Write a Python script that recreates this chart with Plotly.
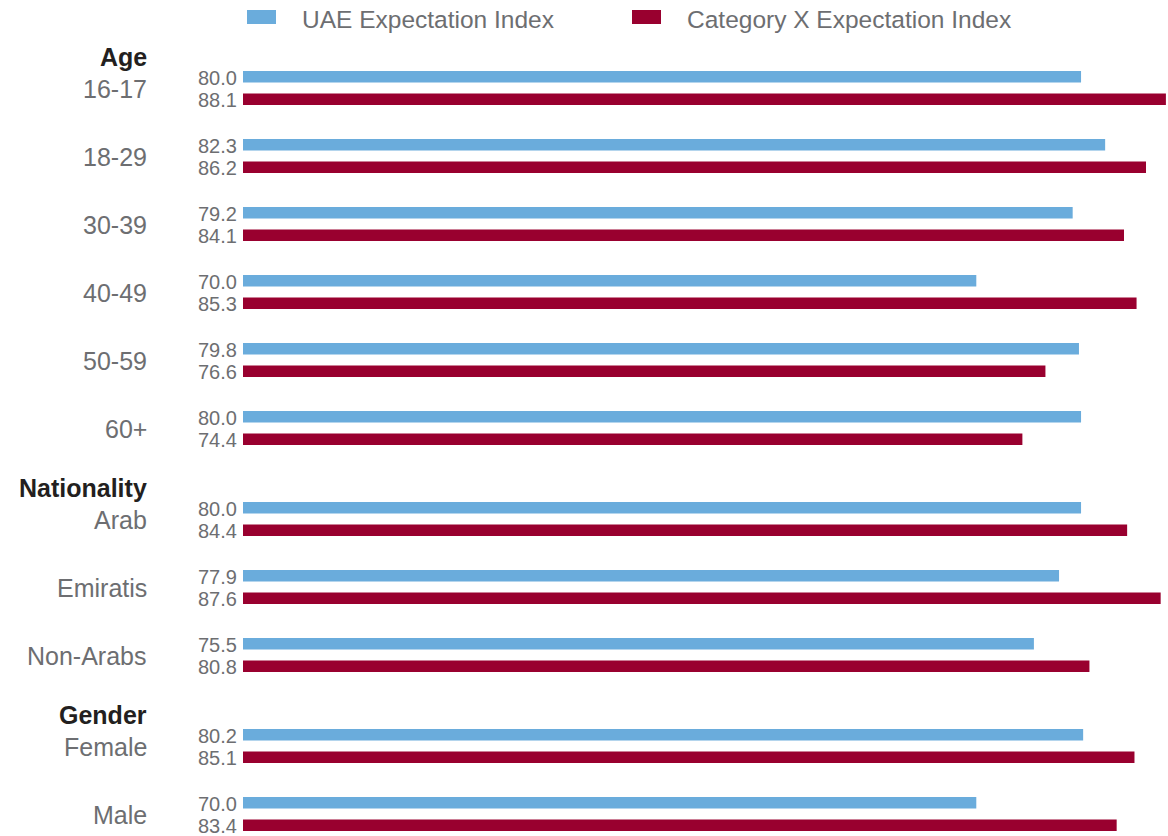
import plotly.graph_objects as go

# ---- data ----
groups = ["Age", "Nationality", "Gender"]
categories = [
    ["16-17", "18-29", "30-39", "40-49", "50-59", "60+"],
    ["Arab", "Emiratis", "Non-Arabs"],
    ["Female", "Male"],
]
uae_index = [80.0, 82.3, 79.2, 70.0, 79.8, 80.0, 80.0, 77.9, 75.5, 80.2, 70.0]
catx_index = [88.1, 86.2, 84.1, 85.3, 76.6, 74.4, 84.4, 87.6, 80.8, 85.1, 83.4]
series_names = ["UAE Expectation Index", "Category X Expectation Index"]

BLUE = "#6aacdc"
RED = "#99002f"
GRAY = "#6d6e71"
DARK = "#231f20"
FONT = "Liberation Sans, Arial, sans-serif"

W, H = 1168, 836
ML, MR, MT, MB = 243, 0, 40, 0
ROW_PX = 68.0
HEADER_GAP = 23.0 / ROW_PX
FIRST_ROW_PX = 88.0

# row positions (in row units) built from group structure
positions, labels, headers = [], [], []
p = 0.0
for gi, (g, cats) in enumerate(zip(groups, categories)):
    if gi > 0:
        p += HEADER_GAP
    headers.append((g, p))
    for c in cats:
        positions.append(p)
        labels.append(c)
        p += 1.0

y_top = (MT - FIRST_ROW_PX) / ROW_PX
y_bot = (H - MB - FIRST_ROW_PX) / ROW_PX

bar_w = 11.5 / ROW_PX
off_blue = -17.0 / ROW_PX
off_red = 5.5 / ROW_PX

fig = go.Figure()
fig.add_trace(go.Bar(
    y=positions, x=uae_index, orientation="h", name=series_names[0],
    marker=dict(color=BLUE, line=dict(width=0)), width=bar_w, offset=off_blue,
    showlegend=False, hoverinfo="x",
))
fig.add_trace(go.Bar(
    y=positions, x=catx_index, orientation="h", name=series_names[1],
    marker=dict(color=RED, line=dict(width=0)), width=bar_w, offset=off_red,
    showlegend=False, hoverinfo="x",
))

ann = []
for pos, lab, u, c in zip(positions, labels, uae_index, catx_index):
    ann.append(dict(x=0, xref="paper", y=pos, yref="y", text=lab, showarrow=False,
                    xanchor="right", yanchor="middle", xshift=-94, yshift=-1,
                    font=dict(family=FONT, size=25, color=GRAY)))
    ann.append(dict(x=0, xref="paper", y=pos + off_blue + bar_w / 2, yref="y",
                    text=f"{u:.1f}", showarrow=False, xanchor="right", yanchor="middle",
                    xshift=-4, yshift=-1, font=dict(family=FONT, size=20, color=GRAY)))
    ann.append(dict(x=0, xref="paper", y=pos + off_red + bar_w / 2, yref="y",
                    text=f"{c:.1f}", showarrow=False, xanchor="right", yanchor="middle",
                    xshift=-4, yshift=-1, font=dict(family=FONT, size=20, color=GRAY)))
for g, hp in headers:
    ann.append(dict(x=0, xref="paper", y=hp - 33.0 / ROW_PX, yref="y", text=f"<b>{g}</b>",
                    showarrow=False, xanchor="right", yanchor="middle", xshift=-94,
                    yshift=-2, font=dict(family=FONT, size=25, color=DARK)))

# legend (manual)
pw = W - ML - MR
ph = H - MT - MB
def px_x(px):
    return (px - ML) / pw
def px_y(py):
    return (H - MB - py) / ph

shapes = []
legend_items = [(247, 300, BLUE, series_names[0]), (632, 685, RED, series_names[1])]
for x0, tx, col, name in legend_items:
    shapes.append(dict(type="rect", xref="paper", yref="paper",
                       x0=px_x(x0), x1=px_x(x0 + 29), y0=px_y(24), y1=px_y(10),
                       fillcolor=col, line=dict(width=0)))
    ann.append(dict(x=px_x(tx), xref="paper", y=px_y(19), yref="paper", text=name,
                    showarrow=False, xanchor="left", yanchor="middle",
                    font=dict(family=FONT, size=24.5, color=GRAY)))

fig.update_layout(
    width=W, height=H,
    margin=dict(l=ML, r=MR, t=MT, b=MB, pad=0),
    paper_bgcolor="white", plot_bgcolor="white",
    barmode="overlay",
    xaxis=dict(range=[0, 88.3], visible=False, fixedrange=True),
    yaxis=dict(range=[y_bot, y_top], visible=False, fixedrange=True),
    annotations=ann, shapes=shapes,
    showlegend=False,
)
fig.write_html("out.html", config={"displayModeBar": False})
